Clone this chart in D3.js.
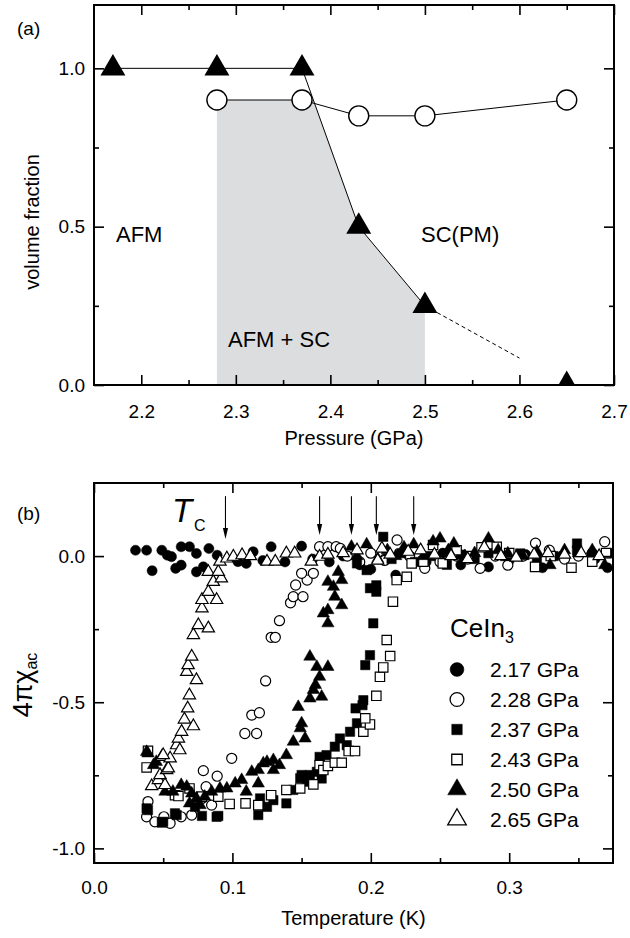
<!DOCTYPE html>
<html>
<head>
<meta charset="utf-8">
<script src="https://cdn.jsdelivr.net/npm/d3@7"></script>
<style>
  body { margin: 0; background: #fff; }
  svg { display: block; }
  text { font-family: "Liberation Sans", Arial, Helvetica, sans-serif; fill: #000; }
</style>
</head>
<body>
<div id="chart"></div>
<script>
// ---------- panel (a): volume fraction vs pressure ----------
const afmPressure = [2.17, 2.28, 2.37, 2.43, 2.50, 2.65];
const afmFraction = [1.0, 1.0, 1.0, 0.5, 0.25, 0.0];
const scPressure = [2.28, 2.37, 2.43, 2.50, 2.65];
const scFraction = [0.9, 0.9, 0.85, 0.85, 0.9];
const dashedExtrap = [[2.50, 0.25], [2.60, 0.085]];
const mixedRegion = [[2.28, 0], [2.28, 0.9], [2.382, 0.9], [2.43, 0.5], [2.50, 0.25], [2.50, 0]];
const pressureTicks = [2.2, 2.3, 2.4, 2.5, 2.6, 2.7];
const pressureMinor = [2.25, 2.35, 2.45, 2.55, 2.65];
const fractionTicks = [0.0, 0.5, 1.0];
const fractionMinor = [0.25, 0.75];

// ---------- panel (b): 4 pi chi_ac vs temperature ----------
const s217 = [[0.030,0.020],[0.038,0.020],[0.042,-0.050],[0.049,0.020],[0.053,0.003],[0.056,-0.002],[0.059,-0.042],[0.063,-0.031],[0.063,0.032],[0.069,0.032],[0.074,0.009],[0.074,-0.054],[0.079,-0.037],[0.083,0.026],[0.089,0.003],[0.104,-0.019],[0.110,-0.025],[0.115,0.015],[0.122,-0.015],[0.128,0.032],[0.138,-0.020],[0.150,0.034],[0.158,-0.010],[0.170,-0.020],[0.180,0.000],[0.192,-0.030],[0.200,-0.045],[0.210,-0.010],[0.218,-0.065],[0.228,0.000],[0.240,-0.020],[0.252,0.010],[0.265,-0.030],[0.285,-0.037],[0.300,-0.015],[0.312,0.005],[0.324,-0.040],[0.338,0.000],[0.350,0.015],[0.362,-0.010],[0.371,-0.040]];
const s228 = [[0.038,-0.892],[0.039,-0.840],[0.044,-0.909],[0.0505,-0.892],[0.055,-0.914],[0.063,-0.892],[0.0706,-0.886],[0.078,-0.829],[0.085,-0.852],[0.081,-0.789],[0.079,-0.734],[0.089,-0.753],[0.0995,-0.692],[0.109,-0.607],[0.1175,-0.607],[0.114,-0.544],[0.1195,-0.536],[0.124,-0.427],[0.128,-0.278],[0.131,-0.278],[0.134,-0.221],[0.142,-0.160],[0.144,-0.139],[0.151,-0.139],[0.1457,-0.099],[0.154,-0.082],[0.150,-0.059],[0.1585,-0.059],[0.163,0.032],[0.169,0.032],[0.175,0.032],[0.178,0.026],[0.183,0.000],[0.192,-0.020],[0.200,0.010],[0.210,-0.015],[0.219,0.055],[0.228,0.000],[0.239,-0.042],[0.250,-0.020],[0.262,0.000],[0.270,-0.010],[0.279,-0.042],[0.290,0.000],[0.299,-0.031],[0.310,0.000],[0.319,0.044],[0.329,0.020],[0.340,-0.010],[0.350,0.000],[0.360,0.010],[0.369,0.049]];
const s237 = [[0.038,-0.863],[0.039,-0.869],[0.049,-0.912],[0.050,-0.909],[0.0585,-0.880],[0.0597,-0.886],[0.073,-0.858],[0.078,-0.889],[0.0886,-0.892],[0.0898,-0.889],[0.1187,-0.886],[0.120,-0.829],[0.125,-0.858],[0.1296,-0.835],[0.139,-0.846],[0.144,-0.800],[0.149,-0.760],[0.150,-0.749],[0.1537,-0.772],[0.156,-0.749],[0.161,-0.738],[0.1645,-0.761],[0.163,-0.687],[0.168,-0.681],[0.174,-0.652],[0.1777,-0.624],[0.1826,-0.647],[0.185,-0.601],[0.190,-0.572],[0.189,-0.521],[0.194,-0.510],[0.1946,-0.493],[0.196,-0.373],[0.1994,-0.339],[0.2018,-0.230],[0.1994,-0.110],[0.204,-0.122],[0.204,-0.100],[0.197,-0.048],[0.190,-0.025],[0.209,0.066],[0.215,-0.010],[0.222,0.010],[0.232,-0.020],[0.243,0.000],[0.255,-0.030],[0.265,0.005],[0.275,-0.010],[0.285,0.010],[0.297,0.000],[0.308,0.009],[0.320,-0.010],[0.332,0.000],[0.349,0.043],[0.349,0.020],[0.360,0.000],[0.372,0.010]];
const s243 = [[0.038,-0.723],[0.039,-0.666],[0.0585,-0.818],[0.061,-0.821],[0.069,-0.795],[0.078,-0.823],[0.0898,-0.823],[0.098,-0.848],[0.1095,-0.846],[0.1187,-0.852],[0.128,-0.818],[0.139,-0.800],[0.149,-0.795],[0.1585,-0.781],[0.163,-0.715],[0.1657,-0.732],[0.169,-0.718],[0.174,-0.707],[0.179,-0.707],[0.184,-0.667],[0.1886,-0.667],[0.1946,-0.601],[0.1994,-0.576],[0.196,-0.555],[0.204,-0.478],[0.2066,-0.413],[0.209,-0.381],[0.214,-0.342],[0.2115,-0.287],[0.216,-0.156],[0.2187,-0.082],[0.226,-0.071],[0.2295,-0.025],[0.238,-0.019],[0.245,0.038],[0.252,-0.025],[0.262,0.020],[0.270,0.000],[0.280,0.030],[0.291,0.032],[0.300,0.010],[0.3187,-0.037],[0.330,0.000],[0.345,-0.040],[0.360,-0.019],[0.370,0.010]];
const s250 = [[0.038,-0.670],[0.039,-0.675],[0.043,-0.715],[0.045,-0.704],[0.0513,-0.806],[0.057,-0.806],[0.063,-0.783],[0.067,-0.789],[0.069,-0.846],[0.0706,-0.812],[0.074,-0.829],[0.0766,-0.852],[0.080,-0.823],[0.085,-0.806],[0.091,-0.795],[0.096,-0.795],[0.102,-0.778],[0.1067,-0.766],[0.110,-0.806],[0.114,-0.738],[0.1187,-0.778],[0.1187,-0.732],[0.1223,-0.709],[0.125,-0.704],[0.1296,-0.698],[0.1296,-0.732],[0.134,-0.715],[0.139,-0.681],[0.144,-0.635],[0.1476,-0.516],[0.149,-0.589],[0.150,-0.572],[0.1525,-0.624],[0.156,-0.487],[0.1585,-0.458],[0.156,-0.344],[0.160,-0.441],[0.161,-0.379],[0.163,-0.413],[0.1645,-0.481],[0.1657,-0.196],[0.169,-0.379],[0.169,-0.230],[0.169,-0.185],[0.169,-0.088],[0.173,-0.105],[0.174,-0.139],[0.1765,-0.054],[0.179,-0.082],[0.179,-0.168],[0.186,0.032],[0.190,0.000],[0.197,0.040],[0.205,-0.010],[0.212,0.020],[0.218,0.000],[0.224,0.030],[0.231,0.040],[0.238,0.000],[0.245,0.050],[0.250,0.060],[0.256,0.020],[0.260,0.043],[0.268,0.000],[0.275,0.010],[0.285,0.060],[0.292,0.020],[0.299,0.009],[0.310,0.000],[0.320,0.015],[0.3295,-0.031],[0.340,0.020],[0.350,0.010],[0.360,0.020],[0.369,-0.031]];
const s265 = [[0.0417,-0.787],[0.0465,-0.766],[0.0477,-0.749],[0.049,-0.687],[0.0513,-0.783],[0.0525,-0.732],[0.0537,-0.726],[0.055,-0.692],[0.050,-0.681],[0.0597,-0.647],[0.061,-0.624],[0.062,-0.664],[0.0633,-0.601],[0.0653,-0.559],[0.0677,-0.521],[0.0689,-0.476],[0.0718,-0.582],[0.067,-0.396],[0.068,-0.373],[0.0706,-0.344],[0.074,-0.424],[0.0718,-0.270],[0.0754,-0.236],[0.0826,-0.247],[0.078,-0.179],[0.078,-0.150],[0.0886,-0.150],[0.0826,-0.122],[0.0862,-0.088],[0.092,-0.076],[0.0826,-0.054],[0.0898,-0.054],[0.091,-0.019],[0.096,-0.008],[0.1007,-0.002],[0.107,0.003],[0.113,0.000],[0.125,-0.019],[0.131,-0.019],[0.139,0.009],[0.145,0.009],[0.157,-0.019],[0.163,-0.002],[0.169,0.005],[0.180,0.010],[0.190,0.020],[0.205,-0.015],[0.208,0.026],[0.214,0.005],[0.227,0.015],[0.236,0.020],[0.246,0.005],[0.258,0.000],[0.270,-0.010],[0.282,0.030],[0.294,0.000],[0.305,-0.005],[0.318,0.005],[0.328,0.010],[0.340,0.005],[0.352,0.010],[0.365,0.000]];
const seriesLabels = ["2.17 GPa", "2.28 GPa", "2.37 GPa", "2.43 GPa", "2.50 GPa", "2.65 GPa"];
const tcArrows = [0.095, 0.163, 0.186, 0.204, 0.231];
const tcTips = [0.058, 0.072, 0.072, 0.072, 0.072];
const tempTicks = [0.0, 0.1, 0.2, 0.3];
const tempMinor = [0.05, 0.15, 0.25, 0.35];
const chiTicks = [-1.0, -0.5, 0.0];
const chiMinor = [-0.75, -0.25];

const W = 630, H = 938;
const FONT = '"Liberation Sans", Arial, Helvetica, sans-serif';
const fmt = d => d.toFixed(1);

const svg = d3.select("#chart").append("svg").attr("width", W).attr("height", H);

// frame with inward ticks on all four sides
function frame(g, x, y, o) {
    const [x0, x1] = x.range(), [y0, y1] = y.range();
    const axes = [
        {ax: d3.axisBottom(x), t: "translate(0," + y0 + ")", major: o.xMajor, minor: o.xMinor, label: true, pad: o.xPad},
        {ax: d3.axisTop(x), t: "translate(0," + y1 + ")", major: o.xMajor, minor: o.xMinor},
        {ax: d3.axisLeft(y), t: "translate(" + x0 + ",0)", major: o.yMajor, minor: o.yMinor, label: true, pad: 9},
        {ax: d3.axisRight(y), t: "translate(" + x1 + ",0)", major: o.yMajor, minor: o.yMinor}
    ];
    axes.forEach(a => {
        const gm = g.append("g").attr("transform", a.t)
            .call(a.ax.tickValues(a.major).tickSizeInner(-10).tickSizeOuter(0)
                .tickPadding(a.pad || 0).tickFormat(a.label ? fmt : ""));
        gm.select(".domain").remove();
        gm.selectAll("line").attr("stroke-width", 1.6);
        gm.selectAll("text").attr("font-size", 19).attr("font-family", FONT);
        const gn = g.append("g").attr("transform", a.t)
            .call(a.ax.tickValues(a.minor).tickSizeInner(-5).tickSizeOuter(0).tickFormat(""));
        gn.select(".domain").remove();
        gn.selectAll("line").attr("stroke-width", 1.6);
    });
    g.append("rect").attr("x", x0).attr("y", y1).attr("width", x1 - x0).attr("height", y0 - y1)
        .attr("fill", "none").attr("stroke", "#000").attr("stroke-width", 2);
}

// ================= panel (a) =================
const xa = d3.scaleLinear().domain([2.15, 2.7]).range([94, 614]);
const ya = d3.scaleLinear().domain([0, 1.2]).range([385, 5]);
const ga = svg.append("g");

svg.append("defs").append("clipPath").attr("id", "clipA")
    .append("rect").attr("x", 94).attr("y", 5).attr("width", 520).attr("height", 380);

const line = d3.line().x(d => xa(d[0])).y(d => ya(d[1]));

ga.append("path").attr("d", line(mixedRegion)).attr("fill", "#dcdddf");

const scPts = scPressure.map((p, i) => [p, scFraction[i]]);
const afmPts = afmPressure.map((p, i) => [p, afmFraction[i]]);

const pa = ga.append("g").attr("clip-path", "url(#clipA)");
pa.append("path").attr("d", line(scPts)).attr("fill", "none").attr("stroke", "#000").attr("stroke-width", 1);
pa.selectAll("circle.sc").data(scPts).enter().append("circle")
    .attr("cx", d => xa(d[0])).attr("cy", d => ya(d[1])).attr("r", 10)
    .attr("fill", "#fff").attr("stroke", "#000").attr("stroke-width", 1.4);
pa.append("path").attr("d", line(afmPts.slice(0, 5))).attr("fill", "none").attr("stroke", "#000").attr("stroke-width", 1);
pa.append("path").attr("d", line(dashedExtrap)).attr("fill", "none").attr("stroke", "#000")
    .attr("stroke-width", 1).attr("stroke-dasharray", "4,3");
pa.selectAll("path.afm").data(afmPts).enter().append("path")
    .attr("transform", d => "translate(" + xa(d[0]) + "," + ya(d[1]) + ")")
    .attr("d", d3.symbol().type(d3.symbolTriangle).size(270))
    .attr("fill", "#000");

frame(ga, xa, ya, {xMajor: pressureTicks, xMinor: pressureMinor, yMajor: fractionTicks, yMinor: fractionMinor, xPad: 20});

ga.append("text").attr("x", 354).attr("y", 445).attr("text-anchor", "middle").attr("font-size", 20).text("Pressure (GPa)");
ga.append("text").attr("transform", "translate(39,222) rotate(-90)").attr("text-anchor", "middle")
    .attr("font-size", 20).text("volume fraction");
ga.append("text").attr("x", 17).attr("y", 35).attr("font-size", 19).text("(a)");
ga.append("text").attr("x", 116).attr("y", 242).attr("font-size", 22).text("AFM");
ga.append("text").attr("x", 421).attr("y", 242).attr("font-size", 22).text("SC(PM)");
ga.append("text").attr("x", 228).attr("y", 347).attr("font-size", 22).text("AFM + SC");

// ================= panel (b) =================
const xb = d3.scaleLinear().domain([0, 0.375]).range([94, 613]);
const yb = d3.scaleLinear().domain([-1.05, 0.25]).range([863, 483]);
const gb = svg.append("g");

svg.select("defs").append("clipPath").attr("id", "clipB")
    .append("rect").attr("x", 94).attr("y", 483).attr("width", 519).attr("height", 380);

const series = [
    {data: s217, type: d3.symbolCircle, size: 80, fill: "#000"},
    {data: s228, type: d3.symbolCircle, size: 80, fill: "#fff"},
    {data: s237, type: d3.symbolSquare, size: 88, fill: "#000"},
    {data: s243, type: d3.symbolSquare, size: 88, fill: "#fff"},
    {data: s250, type: d3.symbolTriangle, size: 66, fill: "#000"},
    {data: s265, type: d3.symbolTriangle, size: 66, fill: "#fff"}
];

const pb = gb.append("g").attr("clip-path", "url(#clipB)");
series.forEach(s => {
    pb.append("g").selectAll("path").data(s.data).enter().append("path")
        .attr("transform", d => "translate(" + xb(d[0]) + "," + yb(d[1]) + ")")
        .attr("d", d3.symbol().type(s.type).size(s.size))
        .attr("fill", s.fill)
        .attr("stroke", "#000").attr("stroke-width", s.fill === "#000" ? 0.5 : 1.2);
});

// Tc arrows
tcArrows.forEach((t, i) => {
    const ax = xb(t), top = yb(0.205), tip = yb(tcTips[i]);
    gb.append("line").attr("x1", ax).attr("x2", ax).attr("y1", top).attr("y2", tip - 6)
        .attr("stroke", "#000").attr("stroke-width", 1.1);
    gb.append("path").attr("d", "M" + (ax - 2.6) + "," + (tip - 11) + "L" + (ax + 2.6) + "," + (tip - 11) + "L" + ax + "," + tip + "Z")
        .attr("fill", "#000");
});

frame(gb, xb, yb, {xMajor: tempTicks, xMinor: tempMinor, yMajor: chiTicks, yMinor: chiMinor, xPad: 18});

// legend
const lg = gb.append("g");
const lgT = lg.append("text").attr("x", 450).attr("y", 637).attr("font-size", 26);
lgT.append("tspan").text("CeIn");
lgT.append("tspan").attr("font-size", 16).attr("dy", 6).text("3");
const legendSize = [150, 150, 110, 110, 150, 150];
series.forEach((s, i) => {
    const cy = 669.5 + i * 30;
    lg.append("path").attr("transform", "translate(457," + cy + ")")
        .attr("d", d3.symbol().type(s.type).size(legendSize[i]))
        .attr("fill", s.fill).attr("stroke", "#000").attr("stroke-width", s.fill === "#000" ? 0.5 : 1.3);
    lg.append("text").attr("x", 490).attr("y", cy + 7.5).attr("font-size", 21).text(seriesLabels[i]);
});

gb.append("text").attr("x", 353.5).attr("y", 925).attr("text-anchor", "middle").attr("font-size", 20).text("Temperature (K)");
gb.append("text").attr("x", 17).attr("y", 520).attr("font-size", 19).text("(b)");
gb.append("text").attr("x", 172).attr("y", 522).attr("font-size", 33).attr("font-style", "italic").text("T");
gb.append("text").attr("x", 194).attr("y", 531).attr("font-size", 16).text("C");
const yl = gb.append("text").attr("transform", "translate(32,685) rotate(-90)").attr("text-anchor", "middle");
yl.append("tspan").attr("font-size", 27).text("4πχ");
yl.append("tspan").attr("font-size", 16).attr("dy", 5).text("ac");
</script>
</body>
</html>
